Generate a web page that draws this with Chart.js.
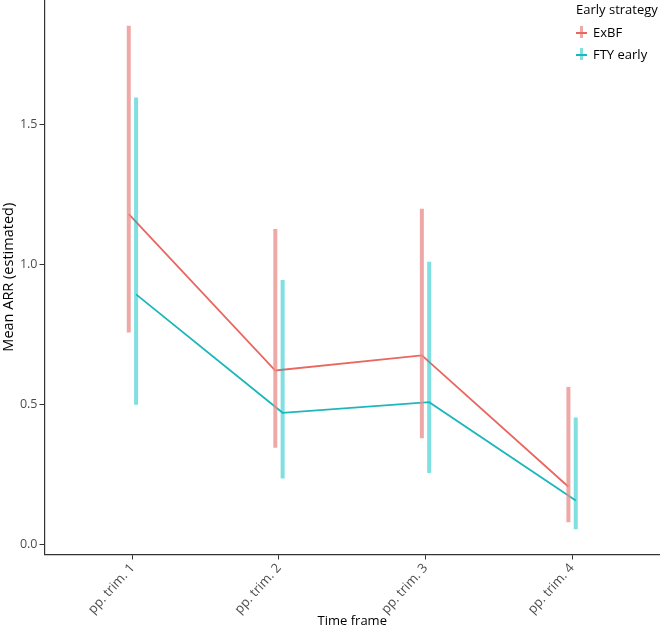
<!DOCTYPE html>
<html>
<head>
<meta charset="utf-8">
<script src="https://cdn.jsdelivr.net/npm/chart.js@4.4.1/dist/chart.umd.min.js"></script>
<style>
  body { margin: 0; background: #fff; font-family: 'Open Sans', sans-serif; }
  #wrap { position: relative; width: 660px; height: 630px; }
  #legend { position: absolute; left: 576px; top: 0; font-size: 13px; color: #000; }
  #legend .title { position: absolute; left: 0; top: 0; white-space: nowrap; }
  #legend .item { position: absolute; left: 0; white-space: nowrap; height: 14px; }
  #legend .v { position: absolute; left: 4px; top: -1px; width: 3px; height: 12px; }
  #legend .h { position: absolute; left: 0; top: 4.5px; width: 11px; height: 2px; }
  #legend .lab { position: absolute; left: 17px; top: -4px; }
</style>
</head>
<body>
<div id="wrap">
  <canvas id="chart" width="660" height="630"></canvas>
  <div id="legend"></div>
</div>
<script>
const categories = ['pp. trim. 1', 'pp. trim. 2', 'pp. trim. 3', 'pp. trim. 4'];
const groups = ['ExBF', 'FTY early'];

const exbfMean  = [1.180, 0.622, 0.676, 0.207];
const exbfLower = [0.758, 0.346, 0.380, 0.080];
const exbfUpper = [1.853, 1.127, 1.200, 0.563];

const ftyMean  = [0.894, 0.471, 0.509, 0.158];
const ftyLower = [0.500, 0.236, 0.256, 0.055];
const ftyUpper = [1.597, 0.945, 1.010, 0.454];

const yTicks = [0, 0.5, 1.0, 1.5];

const lineColors = ['#E9675F', '#1DB7BB'];
const barColors = ['rgba(232,140,138,0.75)', 'rgba(0,191,196,0.5)'];
const dodge = 0.025;

const meanPoints = (means, off) => means.map((v, i) => ({ x: i + 1 + off, y: v }));

// each error bar is two points, then a gap
const barPoints = (lo, hi, off) => {
    const pts = [];
    lo.forEach((v, i) => {
        pts.push({ x: i + 1 + off, y: v });
        pts.push({ x: i + 1 + off, y: hi[i] });
        pts.push({ x: i + 1 + off, y: null });
    });
    return pts;
};

const data = {
    datasets: [
        {
            label: groups[0] + ' line', data: meanPoints(exbfMean, -dodge),
            borderColor: lineColors[0], borderWidth: 1.8, pointRadius: 0, order: 3
        },
        {
            label: groups[1] + ' line', data: meanPoints(ftyMean, dodge),
            borderColor: lineColors[1], borderWidth: 1.8, pointRadius: 0, order: 2
        },
        {
            label: groups[0], data: barPoints(exbfLower, exbfUpper, -dodge),
            borderColor: barColors[0], borderWidth: 4, pointRadius: 0, spanGaps: false,
            borderCapStyle: 'butt', order: 1
        },
        {
            label: groups[1], data: barPoints(ftyLower, ftyUpper, dodge),
            borderColor: barColors[1], borderWidth: 4, pointRadius: 0, spanGaps: false,
            borderCapStyle: 'butt', order: 0
        }
    ]
};

const fixSize = (prop, size) => (scale) => {
    scale[prop] = size;
    scale.paddingTop = 0;
    scale.paddingBottom = 0;
    scale.paddingLeft = 0;
    scale.paddingRight = 0;
};

const axisGrid = { display: true, drawOnChartArea: false, drawTicks: true, tickLength: 5, color: '#333333' };
const axisBorder = { display: true, color: '#333333', width: 1.2 };

new Chart(document.getElementById('chart'), {
    type: 'line',
    data: data,
    options: {
        responsive: false,
        animation: false,
        layout: { padding: 0 },
        plugins: { legend: { display: false }, tooltip: { enabled: false } },
        scales: {
            x: {
                type: 'linear',
                min: 0.4,
                max: 4.6,
                afterFit: fixSize('height', 75.5),
                afterBuildTicks: (scale) => { scale.ticks = categories.map((c, i) => ({ value: i + 1 })); },
                afterCalculateLabelRotation: (scale) => { scale.labelRotation = 48; },
                grid: axisGrid,
                border: axisBorder,
                ticks: {
                    minRotation: 45, maxRotation: 45, padding: 1,
                    color: '#4D4D4D',
                    font: { family: 'Open Sans', size: 13 },
                    callback: (v) => categories[Math.round(v) - 1]
                },
                title: {
                    display: true, text: 'Time frame', color: '#000',
                    font: { family: 'Open Sans', size: 13 },
                    padding: { top: 0, bottom: 1 }
                }
            },
            y: {
                type: 'linear',
                min: -0.035,
                max: 1.945,
                afterFit: fixSize('width', 44.5),
                afterBuildTicks: (scale) => { scale.ticks = yTicks.map(v => ({ value: v })); },
                grid: axisGrid,
                border: axisBorder,
                ticks: {
                    padding: 2,
                    color: '#4D4D4D',
                    font: { family: 'Open Sans', size: 12.5 },
                    callback: (v) => v.toFixed(1)
                },
                title: {
                    display: true, text: 'Mean ARR (estimated)', color: '#000',
                    font: { family: 'Open Sans', size: 14.5 },
                    padding: { top: 0, bottom: 0 }
                }
            }
        }
    }
});

// legend drawn on top of the panel
const legend = document.getElementById('legend');
legend.innerHTML = '<div class="title">Early strategy</div>' + groups.map((g, i) =>
    '<div class="item" style="top:' + (27 + i * 22) + 'px">' +
    '<span class="v" style="background:' + barColors[i] + '"></span>' +
    '<span class="h" style="background:' + lineColors[i] + '"></span>' +
    '<span class="lab">' + g + '</span></div>').join('');
</script>
</body>
</html>
